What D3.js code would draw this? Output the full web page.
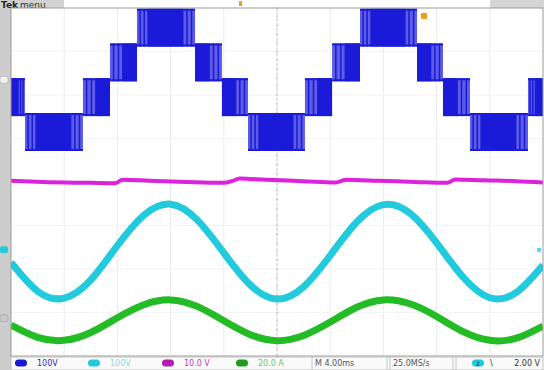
<!DOCTYPE html>
<html>
<head>
<meta charset="utf-8">
<script src="https://cdn.jsdelivr.net/npm/d3@7"></script>
<style>
body { margin: 0; background: #fff; }
svg { display: block; }
text { font-family: "DejaVu Sans", sans-serif; }
</style>
</head>
<body>
<svg id="scope" width="544" height="370"></svg>
<script>
// timebase: 4 ms / div, 10 divisions on screen
const msPerDiv = 4;
const times = [0, 2, 4, 6, 8, 10, 12, 14, 16, 18, 20, 22, 24, 26, 28, 30, 32, 34, 36, 38, 40];

// ch2 (cyan) filtered voltage, V
const cyanVolts = [-29, -95, -111, -69, 10, 80, 105, 69, -7, -81, -113, -85, -13, 64, 104, 84, 16, -63, -110, -98, -35];
// ch4 (green) current, A
const greenAmps = [-3.2, -8.8, -10.2, -6.6, 0.2, 6.2, 8.4, 5.4, -1.2, -7.6, -10.4, -8.0, -1.8, 5.0, 8.4, 6.6, 0.8, -6.2, -10.2, -9.2, -3.6];

// ch3 (magenta) dc voltage, V
const magentaTimes = [0, 2.4, 6, 7.8, 8.4, 10.4, 13.2, 16, 16.6, 17.2, 19.2, 22, 24.4, 25.2, 27.6, 30.4, 32.8, 33.4, 35.6, 38, 40];
const magentaVolts = [0.3, 0.0, -0.2, -0.3, 0.5, 0.3, 0.0, -0.2, 0.2, 0.8, 0.5, 0.2, -0.1, 0.5, 0.3, 0.0, -0.2, 0.6, 0.4, 0.2, -0.1];

// ch1 (blue) multilevel output: each band switches between stepLow and stepLow + stepSize
const stepEdges = [0, 1.05, 5.41, 7.44, 9.47, 13.84, 15.86, 17.82, 22.10, 24.14, 26.24, 30.53, 32.48, 34.51, 38.87, 40];
const stepLow = [-80, -160, -80, 0, 80, 0, -80, -160, -80, 0, 80, 0, -80, -160, -80];
const stepSize = 80;

// channel settings (units per div, ground offset in div)
const ch1 = { perDiv: 100, offset: 2.35 };
const ch2 = { perDiv: 100, offset: -1.56 };
const ch3 = { perDiv: 10, offset: 0 };
const ch4 = { perDiv: 20, offset: -3.13 };

const readouts = ["100V", "100V", "10.0 V", "20.0 A"];
const timeLabel = "4.00ms";
const rateLabel = "25.0MS/s";
const trigLabel = "2.00 V";

const svg = d3.select("#scope");
const pL = 11, pR = 543, pT = 8, pB = 356;

const x = d3.scaleLinear().domain([0, msPerDiv * 10]).range([pL, pR]);
const y = d3.scaleLinear().domain([-4, 4]).range([pB, pT]);
const yOf = (ch, v) => y(v / ch.perDiv + ch.offset);

// frame pieces
svg.append("rect").attr("x", 0).attr("y", 0).attr("width", 544).attr("height", 370).attr("fill", "#fff");
svg.append("rect").attr("x", 0).attr("y", pT).attr("width", pL).attr("height", 370 - pT).attr("fill", "#cdcdcd");
svg.append("rect").attr("x", 0).attr("y", 0).attr("width", 64).attr("height", pT).attr("fill", "#d2d2d2");
svg.append("rect").attr("x", 490).attr("y", 0).attr("width", 54).attr("height", pT).attr("fill", "#d6d6d6");
svg.append("text").attr("x", 1).attr("y", 8).attr("font-size", 9).attr("font-weight", "bold")
    .attr("fill", "#222").text("Tek");
svg.append("text").attr("x", 20).attr("y", 8).attr("font-size", 9).attr("fill", "#333").text("menu");
svg.append("rect").attr("x", 239).attr("y", 1).attr("width", 3).attr("height", 5).attr("fill", "#f0a020");

// grid
const grid = svg.append("g");
d3.range(1, 10).forEach(i => {
    grid.append("line").attr("x1", x(i * msPerDiv)).attr("x2", x(i * msPerDiv))
        .attr("y1", pT).attr("y2", pB).attr("stroke", "#ebebeb");
});
d3.range(-3, 4).forEach(j => {
    grid.append("line").attr("x1", pL).attr("x2", pR)
        .attr("y1", y(j)).attr("y2", y(j)).attr("stroke", "#f3f3f3");
});
grid.append("line").attr("x1", x(5 * msPerDiv)).attr("x2", x(5 * msPerDiv))
    .attr("y1", pT).attr("y2", pB).attr("stroke", "#c4c4d4").attr("stroke-width", 0.8)
    .attr("stroke-dasharray", "3,2");
grid.append("line").attr("x1", pL).attr("x2", pR)
    .attr("y1", y(0)).attr("y2", y(0)).attr("stroke", "#e4e4e4").attr("stroke-width", 0.8);
// minor ticks on the centre vertical
d3.range(-4, 4.01, 0.2).forEach(v => {
    grid.append("line").attr("x1", x(5 * msPerDiv) - 1.5).attr("x2", x(5 * msPerDiv) + 1.5)
        .attr("y1", y(v)).attr("y2", y(v)).attr("stroke", "#c0c0cc").attr("stroke-width", 0.6);
});

svg.append("defs").append("clipPath").attr("id", "plot")
    .append("rect").attr("x", pL).attr("y", pT).attr("width", pR - pL).attr("height", pB - pT);

const traces = svg.append("g").attr("clip-path", "url(#plot)");

// ch1 blue bands
const darkBlue = "#1a1ad8", lightBlue = "#5c5ce6";
stepLow.forEach((lo, i) => {
    const t0 = stepEdges[i], t1 = stepEdges[i + 1];
    const x0 = x(t0), x1 = x(t1), w = x1 - x0;
    const yTop = yOf(ch1, lo + stepSize) - 1.5;
    const yBot = yOf(ch1, lo) + 1.5;
    let d0, d1;
    if (lo === d3.min(stepLow) || lo === d3.max(stepLow)) {
        d0 = 0.18; d1 = 0.8;
    } else {
        const next = stepLow[i + 1], prev = stepLow[i - 1];
        const rising = next !== undefined ? next > lo : prev < lo;
        if (rising) { d0 = 0.45; d1 = 1; } else { d0 = 0; d1 = 0.55; }
    }
    traces.append("rect").attr("x", x0).attr("y", yTop).attr("width", w).attr("height", yBot - yTop)
        .attr("fill", lightBlue);
    traces.append("rect").attr("x", x0 + w * d0).attr("y", yTop).attr("width", w * (d1 - d0))
        .attr("height", yBot - yTop).attr("fill", darkBlue);
    // a few switching streaks in the lighter parts
    [[0, d0], [d1, 1]].forEach(([a, b]) => {
        if (b - a < 0.05) return;
        [0.3, 0.7].forEach(f => {
            const xs = x0 + w * (a + (b - a) * f);
            traces.append("line").attr("x1", xs).attr("x2", xs).attr("y1", yTop).attr("y2", yBot)
                .attr("stroke", darkBlue).attr("stroke-width", 1.5);
        });
    });
    // level lines at band edges
    traces.append("line").attr("x1", x0).attr("x2", x1).attr("y1", yTop + 1).attr("y2", yTop + 1)
        .attr("stroke", darkBlue).attr("stroke-width", 2);
    traces.append("line").attr("x1", x0).attr("x2", x1).attr("y1", yBot - 1).attr("y2", yBot - 1)
        .attr("stroke", darkBlue).attr("stroke-width", 2);
});

// ch3 magenta
traces.append("path")
    .datum(magentaTimes.map((t, i) => [t, magentaVolts[i]]))
    .attr("fill", "none").attr("stroke", "#dc22dc").attr("stroke-width", 4).attr("stroke-linejoin", "round")
    .attr("d", d3.line().x(d => x(d[0])).y(d => yOf(ch3, d[1])).curve(d3.curveMonotoneX));

// ch2 cyan
traces.append("path")
    .datum(times.map((t, i) => [t, cyanVolts[i]]))
    .attr("fill", "none").attr("stroke", "#22cade").attr("stroke-width", 7)
    .attr("d", d3.line().x(d => x(d[0])).y(d => yOf(ch2, d[1])).curve(d3.curveNatural));

// ch4 green
traces.append("path")
    .datum(times.map((t, i) => [t, greenAmps[i]]))
    .attr("fill", "none").attr("stroke", "#24bc24").attr("stroke-width", 7)
    .attr("d", d3.line().x(d => x(d[0])).y(d => yOf(ch4, d[1])).curve(d3.curveNatural));

// trigger marker
traces.append("rect").attr("x", 421).attr("y", 13).attr("width", 6).attr("height", 6).attr("rx", 1)
    .attr("fill", "#f29a1a");

// plot border
svg.append("rect").attr("x", pL).attr("y", pT).attr("width", pR - pL).attr("height", pB - pT)
    .attr("fill", "none").attr("stroke", "#9a9a9a").attr("stroke-width", 1);

// ground markers on the left
const markers = [
    { ch: ch1, color: "#f2f2f2", stroke: "#999" },
    { ch: ch2, color: "#22cade", stroke: "none" },
    { ch: ch4, color: "#c8c8c8", stroke: "#999" }
];
markers.forEach(m => {
    svg.append("rect").attr("x", 0).attr("y", y(m.ch.offset) - 3.5).attr("width", 8).attr("height", 7).attr("rx", 2)
        .attr("fill", m.color).attr("stroke", m.stroke).attr("stroke-width", 0.5);
});
svg.append("rect").attr("x", 537).attr("y", y(ch2.offset) - 2).attr("width", 4).attr("height", 4)
    .attr("fill", "#5ad6e6");

// bottom readout bar
const barY = 357;
svg.append("rect").attr("x", pL).attr("y", barY).attr("width", pR - pL).attr("height", 370 - barY)
    .attr("fill", "#fafafa").attr("stroke", "#b4b4b4").attr("stroke-width", 0.8);
const pillColors = ["#1818d4", "#22cade", "#b21cb2", "#1c9c1c"];
const textColors = ["#2a2ab8", "#8ad8e6", "#c040c0", "#6ac86a"];
const pillX = [15, 88, 162, 236];
readouts.forEach((r, i) => {
    svg.append("rect").attr("x", pillX[i]).attr("y", 359.5).attr("width", 12).attr("height", 7).attr("rx", 3.5)
        .attr("fill", pillColors[i]);
    svg.append("text").attr("x", pillX[i] + 22).attr("y", 366).attr("font-size", 8)
        .attr("fill", textColors[i]).text(r);
});
[312, 387, 390, 453, 456].forEach(sx => {
    svg.append("line").attr("x1", sx).attr("x2", sx).attr("y1", barY).attr("y2", 370)
        .attr("stroke", "#b8b8b8").attr("stroke-width", 0.8);
});
svg.append("text").attr("x", 315).attr("y", 366).attr("font-size", 8).attr("fill", "#555").text("M " + timeLabel);
svg.append("text").attr("x", 393).attr("y", 366).attr("font-size", 8).attr("fill", "#555").text(rateLabel);
svg.append("rect").attr("x", 472).attr("y", 359.5).attr("width", 12).attr("height", 7).attr("rx", 3.5)
    .attr("fill", "#22cade");
svg.append("text").attr("x", 478).attr("y", 365.5).attr("font-size", 6).attr("text-anchor", "middle")
    .attr("fill", "#124").text("2");
svg.append("text").attr("x", 490).attr("y", 366).attr("font-size", 8).attr("fill", "#333").text("\\");
svg.append("text").attr("x", 540).attr("y", 366).attr("font-size", 8).attr("text-anchor", "end")
    .attr("fill", "#333").text(trigLabel);
</script>
</body>
</html>
